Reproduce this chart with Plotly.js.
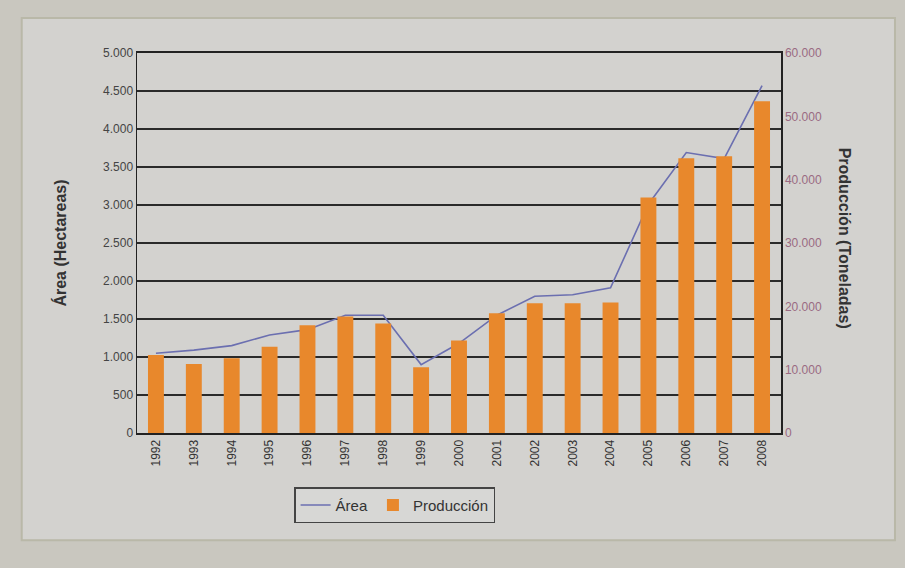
<!DOCTYPE html>
<html>
<head>
<meta charset="utf-8">
<script src="https://cdn.plot.ly/plotly-3.0.1.min.js"></script>
<style>html,body{margin:0;padding:0;background:#c9c7bf;}</style>
</head>
<body>
<div id="chart" style="width:905px;height:568px;"></div>
<script>
const years = ['1992','1993','1994','1995','1996','1997','1998','1999','2000','2001','2002','2003','2004','2005','2006','2007','2008'];
const areaHa = [1050, 1090, 1150, 1290, 1360, 1550, 1550, 900, 1180, 1550, 1800, 1820, 1910, 3010, 3690, 3610, 4570];
const produccionTon = [12300, 10900, 11800, 13600, 17000, 18400, 17300, 10400, 14600, 18900, 20500, 20500, 20600, 37200, 43400, 43700, 52400];
const leftTicks = [0, 500, 1000, 1500, 2000, 2500, 3000, 3500, 4000, 4500, 5000];
const rightTicks = [0, 10000, 20000, 30000, 40000, 50000, 60000];

const data = [
  {
    type: 'scatter', mode: 'lines', name: 'Área',
    x: years, y: areaHa, yaxis: 'y',
    line: {color: '#6b6fb0', width: 1.6}
  },
  {
    type: 'bar', name: 'Producción',
    x: years, y: produccionTon, yaxis: 'y2',
    width: 0.42,
    marker: {color: '#e8882c'}
  }
];

const layout = {
  width: 905, height: 568,
  separators: ',.',
  margin: {l: 137, r: 124, t: 53, b: 135},
  paper_bgcolor: '#c9c7bf',
  plot_bgcolor: '#d7d7d5',
  font: {family: 'Liberation Sans, Arial, sans-serif', color: '#333'},
  showlegend: true,
  legend: {
    orientation: 'h', x: 0.40, xanchor: 'center', y: -0.19, yanchor: 'middle',
    bgcolor: '#d7d7d5', bordercolor: '#444', borderwidth: 1.5,
    font: {size: 15, color: '#333'}, traceorder: 'normal', itemwidth: 30
  },
  xaxis: {
    type: 'category', tickangle: -90,
    tickfont: {size: 12, color: '#333'},
    showgrid: false, showline: true, mirror: true, linecolor: '#222', linewidth: 2,
    ticks: '', zeroline: false
  },
  yaxis: {
    range: [0, 5000], tickvals: leftTicks, tickformat: ',d',
    tickfont: {size: 12, color: '#444'},
    showgrid: true, gridcolor: '#2a2a2a', gridwidth: 2,
    showline: true, linecolor: '#222', linewidth: 1.5,
    zeroline: false, ticks: '',
    title: {text: '<b>Área (Hectareas)</b>', font: {size: 16, color: '#333'}, standoff: 32}
  },
  yaxis2: {
    range: [0, 60000], tickvals: rightTicks, tickformat: ',d',
    overlaying: 'y', side: 'right',
    tickfont: {size: 12, color: '#9a6a82'},
    showgrid: false, showline: true, linecolor: '#222', linewidth: 1.5,
    zeroline: false, ticks: ''
  },
  shapes: [
    {type: 'rect', xref: 'paper', yref: 'paper', x0: -0.179, x1: 1.177, y0: -0.282, y1: 1.092,
     fillcolor: '#d3d2cf', line: {color: '#b9b8a8', width: 2}, layer: 'below'}
  ],
  annotations: [
    {xref: 'paper', yref: 'paper', x: 1.10, y: 0.513, text: '<b>Producción (Toneladas)</b>',
     textangle: 90, showarrow: false, font: {size: 16, color: '#333'}, xanchor: 'center', yanchor: 'middle'}
  ]
};

Plotly.newPlot('chart', data, layout, {displayModeBar: false, staticPlot: true});
</script>
</body>
</html>
